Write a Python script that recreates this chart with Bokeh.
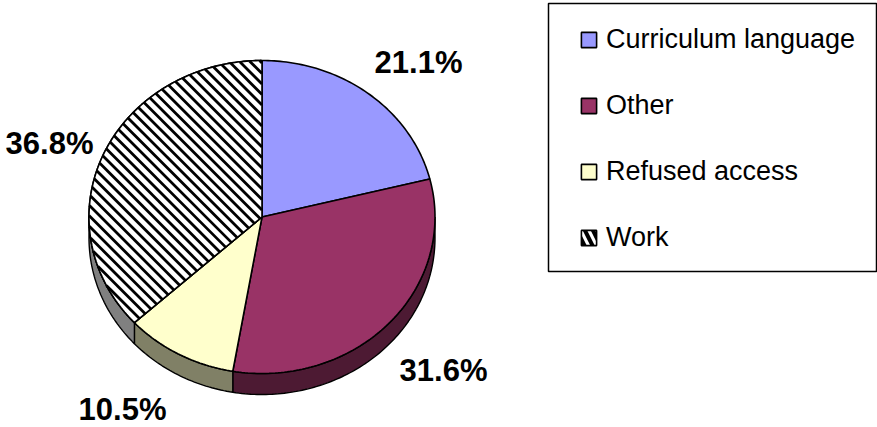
import math
from bokeh.plotting import figure
from bokeh.models import Range1d, Legend, LegendItem, BoxAnnotation
from bokeh.core.properties import value
from bokeh.embed import file_html
from bokeh.resources import INLINE

categories = ["Curriculum language", "Other", "Refused access", "Work"]
shares = [21.1, 31.6, 10.5, 36.8]
labels = ["21.1%", "31.6%", "10.5%", "36.8%"]
top_colors = ["#9999FF", "#993366", "#FFFFCC", "#FFFFFF"]
side_colors = ["#4D4D80", "#4D1A33", "#808066", "#808080"]

CX, CY, RX, RY, DEPTH = 261.5, 216.5, 173, 156.5, 21
label_x = [418, 443, 122, 49]
label_y = [62, 370, 409, 143]
STRIPE_PERIOD = 10.5
STRIPE_PHASE = -10

p = figure(width=877, height=427, output_backend="svg", toolbar_location=None,
           x_range=Range1d(0, 877), y_range=Range1d(427, 0), min_border=0,
           outline_line_color=None, background_fill_color="white",
           border_fill_color="white")
p.axis.visible = False
p.grid.visible = False

def rim(a0, a1, dy=0):
    n = max(2, int(abs(a1 - a0) * 180 / math.pi))
    pts = [a0 + (a1 - a0) * i / n for i in range(n + 1)]
    return [CX + RX * math.sin(t) for t in pts], [CY - RY * math.cos(t) + dy for t in pts]

def stripes(xs, ys):
    """Clip 45-degree stripes to a convex outline."""
    out_x, out_y = [], []
    lo = min(y - x for x, y in zip(xs, ys))
    hi = max(y - x for x, y in zip(xs, ys))
    c = lo + (STRIPE_PHASE - lo) % STRIPE_PERIOD
    while c < hi:
        hits = []
        for k in range(len(xs) - 1):
            f0, f1 = ys[k] - xs[k] - c, ys[k + 1] - xs[k + 1] - c
            if f0 * f1 < 0:
                t = f0 / (f0 - f1)
                hits.append((xs[k] + t * (xs[k + 1] - xs[k]), ys[k] + t * (ys[k + 1] - ys[k])))
        if len(hits) >= 2:
            hits.sort()
            out_x.append([hits[0][0], hits[-1][0]])
            out_y.append([hits[0][1], hits[-1][1]])
        c += STRIPE_PERIOD
    return out_x, out_y

edges = [0]
for s in shares:
    edges.append(edges[-1] + s / sum(shares) * 2 * math.pi)

sx, sy, sc = [], [], []
for i in range(len(shares)):
    a0, a1 = max(edges[i], math.pi / 2), min(edges[i + 1], 3 * math.pi / 2)
    if a1 > a0:
        x0, y0 = rim(a0, a1)
        x1, y1 = rim(a1, a0, DEPTH)
        sx.append(x0 + x1)
        sy.append(y0 + y1)
        sc.append(side_colors[i])
p.patches(sx, sy, fill_color=sc, line_color="black", line_width=1.4)

renderers = []
for i, c in enumerate(categories):
    x, y = rim(edges[i], edges[i + 1])
    px, py = [CX] + x + [CX], [CY] + y + [CY]
    kw = dict(fill_color=top_colors[i], line_color="black", line_width=1.6)
    if c == "Work":
        swatch = p.patch(px, py, hatch_pattern="left_diagonal_line", hatch_color="black",
                         hatch_scale=16, hatch_weight=4, **kw)
        renderers.append(swatch)
        p.patch(px, py, fill_color="white", line_color=None)
        lx, ly = stripes(px, py)
        p.multi_line(lx, ly, line_color="black", line_width=2.8, line_cap="butt")
        p.patch(px, py, fill_color=None, line_color="black", line_width=1.6)
    else:
        renderers.append(p.patch(px, py, **kw))

p.text(label_x, label_y, text=labels, text_font=value("Liberation Sans"),
       text_font_style="bold", text_font_size="31px", text_color="black",
       text_align="center", text_baseline="middle")

p.add_layout(BoxAnnotation(left=548, right=876, top=3, bottom=271,
                           fill_color="white", fill_alpha=1, line_alpha=1,
                           line_color="black", line_width=1.5, level="annotation"))

legend = Legend(items=[LegendItem(label=c, renderers=[r]) for c, r in zip(categories, renderers)],
                location=(579, 174), orientation="vertical",
                glyph_width=19, glyph_height=19, label_standoff=8, spacing=35,
                label_text_font="Liberation Sans", label_text_font_size="27px",
                label_text_color="black", padding=20, margin=0,
                border_line_color=None, background_fill_alpha=0,
                click_policy="none")
p.add_layout(legend, "center")

open("out.html", "w").write(file_html(p, INLINE))
